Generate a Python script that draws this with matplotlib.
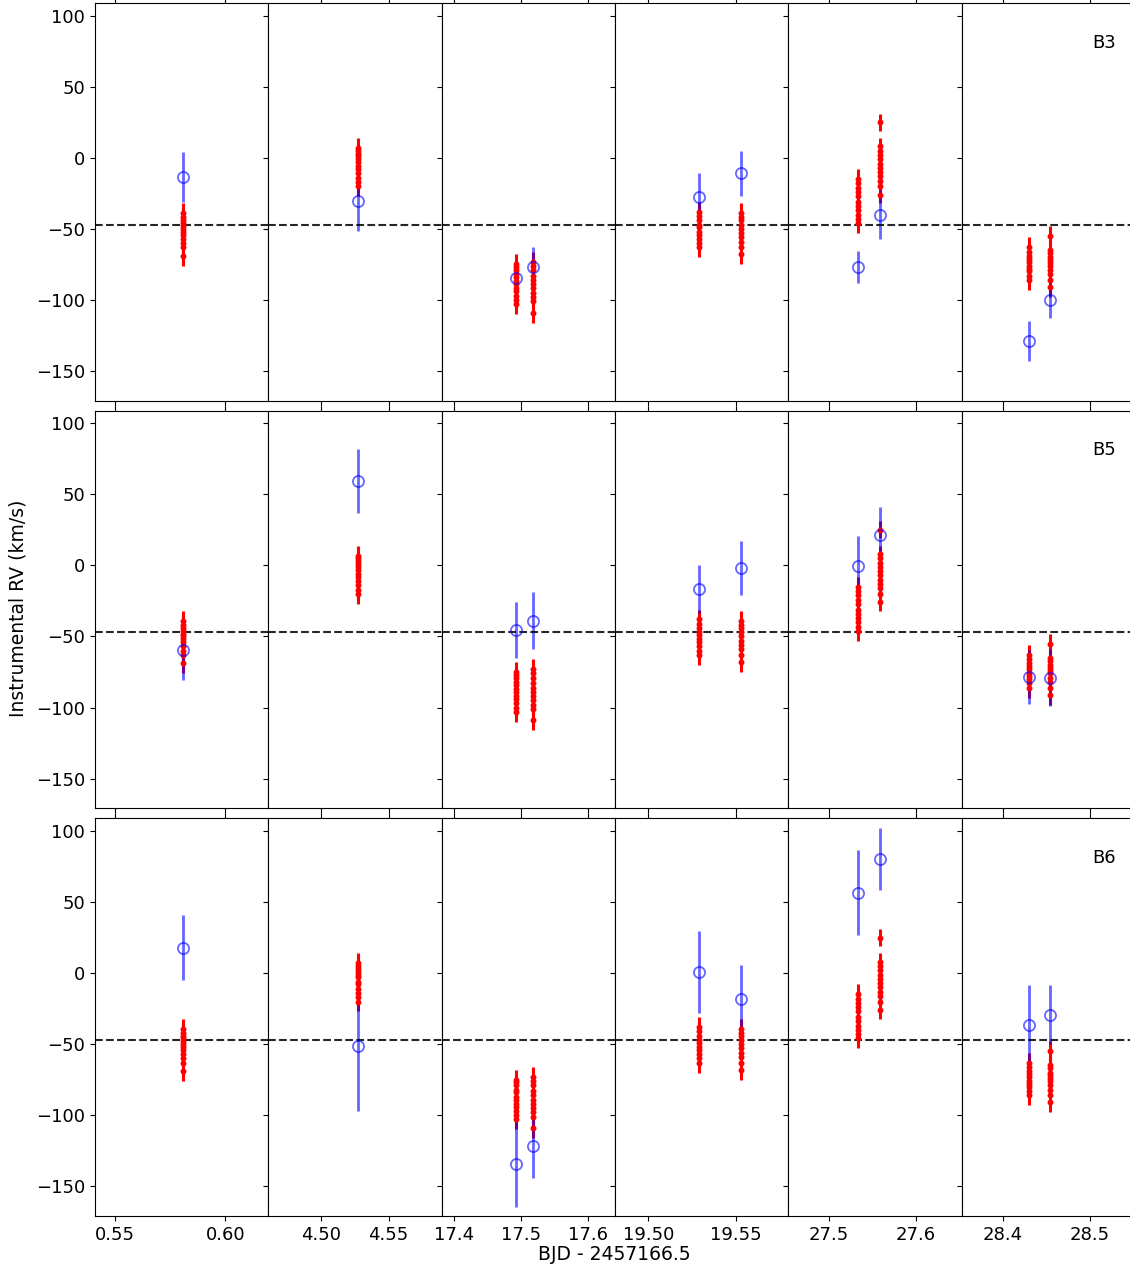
import numpy as np
import matplotlib
matplotlib.use("Agg")
import matplotlib.pyplot as plt
from matplotlib.ticker import FormatStrFormatter

plt.rcParams['font.size'] = 13

# epochs (BJD - 2457166.5); same epochs for reference and band measurements
epochs = [0.5809, 4.5269, 17.493, 17.518, 19.529, 19.553, 27.533, 27.559, 28.430, 28.454]
# which panel column each epoch belongs to
epoch_col = [0, 1, 2, 2, 3, 3, 4, 4, 5, 5]

# reference RVs (red), one list per epoch
ref_rv = [
    [-39, -42, -44, -46, -48, -50, -52, -54, -57, -60, -63, -69],
    [7, 5, 3, 1, -1, -3, -6, -8, -11, -14, -17, -20],
    [-75, -77, -79, -82, -84, -87, -89, -92, -94, -97, -100, -103],
    [-73, -76, -79, -83, -86, -89, -92, -95, -98, -101, -109],
    [-38, -41, -44, -47, -49, -52, -54, -57, -60, -63],
    [-39, -42, -44, -47, -50, -53, -56, -59, -63, -68],
    [-15, -18, -21, -24, -27, -31, -34, -37, -40, -43, -46],
    [25, 8, 5, 2, -1, -4, -7, -10, -13, -16, -20, -26],
    [-63, -66, -69, -71, -73, -76, -78, -80, -83, -86],
    [-55, -65, -67, -70, -72, -74, -76, -79, -82, -86, -91],
]
ref_err = [7, 7, 7, 7, 7, 7, 7, 6, 7, 7]

bands = ["B3", "B5", "B6"]
band_rv = {
    "B3": [-13.7, -30.4, -84.5, -77, -27.8, -11, -76.8, -40, -128.8, -99.9],
    "B5": [-59.5, 59.3, -45.4, -39, -16.6, -1.8, -0.4, 21.3, -78.4, -79],
    "B6": [17.8, -51, -134.6, -121.9, 1, -18, 56.5, 80.3, -36.2, -29.2],
}
band_err = {
    "B3": [17.6, 21, 12, 14, 17, 16, 11, 17, 14, 13],
    "B5": [21, 22.5, 20, 20, 17, 19, 21, 20, 19, 20],
    "B6": [22.8, 46, 30, 22, 29, 24, 30, 22, 28, 21],
}

systemic_rv = -47

col_xlim = [(0.5409, 0.6195), (4.4604, 4.5896), (17.382, 17.64),
            (19.481, 19.580), (27.453, 27.653), (28.353, 28.552)]
col_xticks = [[0.55, 0.60], [4.50, 4.55], [17.4, 17.5, 17.6],
              [19.50, 19.55], [27.5, 27.6], [28.4, 28.5]]
col_fmt = ["%.2f", "%.2f", "%.1f", "%.2f", "%.1f", "%.1f"]

fig, axes = plt.subplots(3, 6, figsize=(11.3, 12.7), dpi=100,
                         sharex='col', sharey=True)
fig.subplots_adjust(left=95 / 1130, right=1135 / 1130,
                    top=1 - 3 / 1270, bottom=1 - 1216 / 1270,
                    wspace=0, hspace=0.025)

for r, band in enumerate(bands):
    for c in range(6):
        ax = axes[r, c]
        for i, t in enumerate(epochs):
            if epoch_col[i] != c:
                continue
            vals = ref_rv[i]
            ax.errorbar([t] * len(vals), vals, yerr=ref_err[i], fmt='.',
                        color='r', ms=6.5, elinewidth=2.2)
            ax.errorbar([t], [band_rv[band][i]], yerr=band_err[band][i],
                        fmt='o', color='b', mfc='none', ms=8, mew=1.3,
                        elinewidth=2, alpha=0.6)
        ax.axhline(systemic_rv, color='k', ls='--', lw=1.5, alpha=0.85)
        ax.set_xlim(*col_xlim[c])
        ax.set_xticks(col_xticks[c])
        ax.xaxis.set_major_formatter(FormatStrFormatter(col_fmt[c]))
        ax.tick_params(top=True, direction='out')
    axes[r, 5].text(0.82, 0.9, band, transform=axes[r, 5].transAxes,
                    ha='center', va='center', fontsize=13)

axes[0, 0].set_ylim(-171, 109)
axes[0, 0].set_yticks([-150, -100, -50, 0, 50, 100])

fig.text(0.016, 1 - 608 / 1270, "Instrumental RV (km/s)", rotation=90,
         ha='center', va='center', fontsize=13.5)
fig.text(614 / 1130, 1 - 1255 / 1270, "BJD - 2457166.5",
         ha='center', va='center', fontsize=13.5)

fig.savefig("out.png", dpi=100)
